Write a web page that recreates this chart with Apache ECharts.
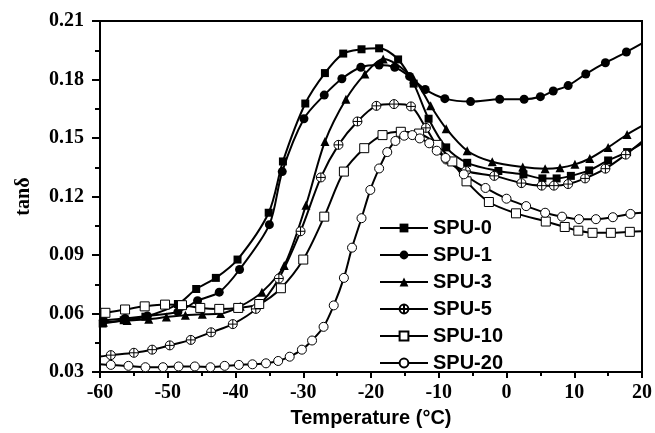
<!DOCTYPE html>
<html>
<head>
<meta charset="utf-8">
<script src="https://cdn.jsdelivr.net/npm/echarts@6/dist/echarts.min.js"></script>
<style>
    html, body { margin: 0; padding: 0; background: #fff; }
    #chart-box { width: 655px; height: 433px; }
</style>
</head>
<body>
<div id="chart-box"></div>
<script>
    // [temperature, tan delta]
    var spu0 = [[-59.6,0.0549],[-56.5,0.0566],[-53.3,0.0584],[-48.5,0.0649],[-45.8,0.0726],[-42.9,0.0783],[-39.7,0.0877],[-35.1,0.1117],[-33,0.138],[-29.7,0.1677],[-26.8,0.1833],[-24.1,0.1933],[-21.4,0.1955],[-18.8,0.196],[-16,0.1903],[-13.7,0.1779],[-11.5,0.1599],[-8.9,0.1452],[-5.8,0.1373],[-1.2,0.1331],[2.5,0.1314],[5.3,0.1293],[7.4,0.1293],[9.5,0.1306],[12.2,0.1334],[15,0.1385],[17.8,0.1428],[20,0.1473]];
    var spu1 = [[-59.5,0.0565],[-56.3,0.0575],[-53,0.0588],[-48.5,0.0609],[-45.6,0.0666],[-42.4,0.071],[-39.4,0.0826],[-35,0.1056],[-33.1,0.1328],[-29.9,0.1599],[-26.9,0.172],[-24.3,0.1804],[-21.5,0.1863],[-18.8,0.1874],[-16.5,0.1863],[-14.3,0.1816],[-12,0.1749],[-9.1,0.1702],[-5.3,0.1687],[-1,0.1699],[2.6,0.1699],[5,0.1712],[6.9,0.1741],[9.1,0.1769],[11.7,0.1828],[14.6,0.1886],[17.7,0.1941],[20,0.1985]];
    var spu3 = [[-59.5,0.0555],[-56,0.0565],[-52.8,0.0571],[-50.2,0.0582],[-47.4,0.0592],[-44.9,0.0596],[-42.2,0.06],[-39.3,0.0637],[-36.1,0.071],[-32.8,0.0847],[-29.6,0.1156],[-26.8,0.1482],[-23.7,0.1699],[-20.9,0.1828],[-18.2,0.1905],[-13.7,0.1803],[-11.2,0.1665],[-8.9,0.1548],[-5.8,0.1435],[-2.1,0.1378],[2.4,0.1351],[5.7,0.1343],[7.9,0.1348],[10.1,0.1365],[12.3,0.1395],[15,0.1452],[17.8,0.1518],[20,0.1562]];
    var spu5 = [[-60,0.038],[-58.4,0.0387],[-55,0.0399],[-52.3,0.0415],[-49.7,0.0437],[-46.6,0.0465],[-43.6,0.0504],[-40.4,0.0546],[-37,0.0624],[-33.6,0.078],[-30.4,0.1022],[-27.4,0.1298],[-24.8,0.1465],[-22,0.1585],[-19.2,0.1665],[-16.6,0.1674],[-14.1,0.1662],[-11.9,0.1552],[-8.9,0.139],[-6,0.1331],[-1.8,0.1306],[2.2,0.1269],[5.2,0.1256],[7,0.1256],[9.1,0.1264],[11.6,0.1293],[14.6,0.1343],[17.6,0.1415],[20,0.1482]];
    var spu10 = [[-59.2,0.0604],[-56.3,0.0621],[-53.4,0.0637],[-50.4,0.0646],[-47.9,0.0643],[-45.2,0.0629],[-42.4,0.0624],[-39.6,0.0629],[-36.5,0.0649],[-33.3,0.073],[-30,0.0877],[-26.9,0.1097],[-24,0.1328],[-21,0.1448],[-18.3,0.1515],[-15.6,0.1532],[-12.9,0.1523],[-10.2,0.1465],[-8,0.138],[-5.9,0.1278],[-2.6,0.1172],[1.4,0.1114],[5.8,0.1072],[8.6,0.1044],[10.6,0.1025],[12.7,0.1014],[15.4,0.1014],[18.2,0.1019],[20,0.1022]];
    var spu20 = [[-60,0.034],[-58.4,0.0337],[-55.8,0.0332],[-53.3,0.0325],[-50.7,0.0325],[-48.4,0.0329],[-46,0.0329],[-43.7,0.0325],[-41.6,0.0332],[-39.5,0.0337],[-37.5,0.034],[-35.5,0.0345],[-33.7,0.0357],[-32,0.0379],[-30.2,0.0415],[-28.7,0.0462],[-27,0.0532],[-25.5,0.0642],[-24,0.0783],[-22.8,0.0938],[-21.4,0.1089],[-20.1,0.1234],[-18.8,0.1344],[-17.6,0.1428],[-16.4,0.1485],[-15.1,0.1512],[-13.9,0.1515],[-12.8,0.1498],[-11.4,0.1473],[-10.3,0.1435],[-9,0.1398],[-6.3,0.1314],[-3.1,0.1244],[0,0.1189],[2.9,0.1151],[5.7,0.1117],[8.2,0.1097],[10.7,0.1084],[13.2,0.1084],[15.7,0.1094],[18.3,0.1111],[20,0.1117]];

    var names = ['SPU-0', 'SPU-1', 'SPU-3', 'SPU-5', 'SPU-10', 'SPU-20'];
    var crossCircle = 'path://M0,-10A10,10 0 1,1 0,10A10,10 0 1,1 0,-10ZM-10,0L10,0M0,-10L0,10';

    // curve ends at the frame edge have no marker
    function pts(arr) {
        return arr.map(function (p) {
            if (p[0] <= -60 || p[0] >= 20) {
                return { value: p, symbol: 'none' };
            }
            return p;
        });
    }

    function line(name, arr, symbol, filled, size) {
        return {
            name: name,
            type: 'line',
            smooth: 0.3,
            data: pts(arr),
            symbol: symbol,
            symbolSize: size,
            showAllSymbol: true,
            lineStyle: { color: '#000', width: 2 },
            itemStyle: filled
                ? { color: '#000' }
                : { color: '#fff', borderColor: '#000', borderWidth: 1 },
            emphasis: { disabled: true }
        };
    }

    var myChart = echarts.init(document.getElementById('chart-box'));

    var option = {
        animation: false,
        backgroundColor: '#fff',
        grid: {
            left: 100, right: 12, top: 21, bottom: 53,
            show: true, borderColor: '#000', borderWidth: 2
        },
        legend: {
            orient: 'vertical',
            left: 374,
            top: 213,
            itemWidth: 48,
            itemHeight: 11,
            itemGap: 7,
            data: names,
            textStyle: {
                fontFamily: 'Liberation Sans', fontWeight: 'bold',
                fontSize: 20, color: '#000'
            }
        },
        xAxis: {
            type: 'value',
            min: -60, max: 20, interval: 10,
            name: 'Temperature (\u00B0C)',
            nameLocation: 'middle',
            nameGap: 29,
            nameTextStyle: {
                fontFamily: 'Liberation Sans', fontWeight: 'bold',
                fontSize: 20, color: '#000'
            },
            axisLine: { onZero: false, lineStyle: { color: '#000', width: 2 } },
            axisTick: { length: 6, lineStyle: { color: '#000', width: 2 } },
            minorTick: { show: true, splitNumber: 2, length: 4, lineStyle: { color: '#000', width: 2 } },
            splitLine: { show: false },
            axisLabel: {
                margin: 11,
                fontFamily: 'Liberation Serif', fontWeight: 'bold',
                fontSize: 20, color: '#000'
            }
        },
        yAxis: {
            type: 'value',
            min: 0.03, max: 0.21, interval: 0.03,
            name: 'tan\u03B4',
            nameLocation: 'middle',
            nameGap: 66,
            nameTextStyle: {
                fontFamily: 'Liberation Serif', fontWeight: 'bold',
                fontSize: 20, color: '#000'
            },
            axisLine: { onZero: false, lineStyle: { color: '#000', width: 2 } },
            axisTick: { length: 8, lineStyle: { color: '#000', width: 2 } },
            minorTick: { show: true, splitNumber: 2, length: 5, lineStyle: { color: '#000', width: 2 } },
            splitLine: { show: false },
            axisLabel: {
                margin: 16,
                fontFamily: 'Liberation Serif', fontWeight: 'bold',
                fontSize: 20, color: '#000',
                formatter: function (v) { return v.toFixed(2); }
            }
        },
        series: [
            line('SPU-0', spu0, 'rect', true, 8),
            line('SPU-1', spu1, 'circle', true, 9),
            line('SPU-3', spu3, 'triangle', true, 9),
            line('SPU-5', spu5, crossCircle, false, 9),
            line('SPU-10', spu10, 'rect', false, 9),
            line('SPU-20', spu20, 'circle', false, 9)
        ]
    };

    myChart.setOption(option, true);
</script>
</body>
</html>
